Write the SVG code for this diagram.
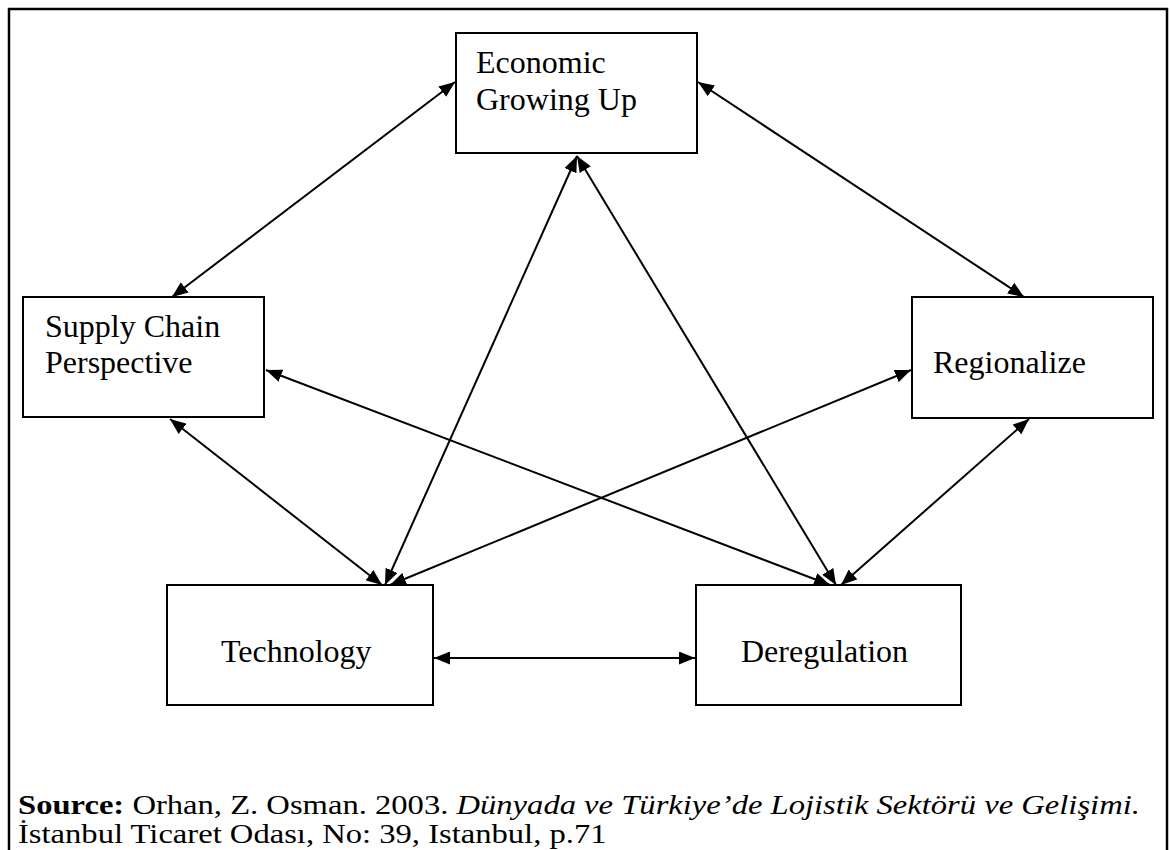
<svg xmlns="http://www.w3.org/2000/svg" width="1170" height="850" viewBox="0 0 1170 850">
  <style>
    .box { fill: #ffffff; stroke: #000000; stroke-width: 2; }
    .frame { fill: none; stroke: #000000; stroke-width: 2.5; }
    .lbl { font-family: "Liberation Serif", "Times New Roman", serif; font-size: 32px; fill: #000000; }
    .src { font-family: "Liberation Serif", "Times New Roman", serif; font-size: 28px; fill: #000000; }
    .link { fill: none; stroke: #000000; stroke-width: 2; marker-start: url(#head); marker-end: url(#head); }
  </style>
  <defs>
    <marker id="head" markerUnits="userSpaceOnUse" markerWidth="16" markerHeight="13" viewBox="0 0 16 13" refX="16" refY="6.5" orient="auto-start-reverse">
      <path d="M0,0 L16,6.5 L0,13 Z" fill="#000000"/>
    </marker>
  </defs>

  <rect class="frame" x="9" y="9" width="1158" height="860"/>

  <g id="connectors">
    <path class="link" d="M455,82 L172,297"/>
    <path class="link" d="M698,82 L1024,297"/>
    <path class="link" d="M577,156 L385,585"/>
    <path class="link" d="M577,156 L836,585"/>
    <path class="link" d="M266,370 L830,585"/>
    <path class="link" d="M170,419 L382,585"/>
    <path class="link" d="M911,370 L390,585"/>
    <path class="link" d="M1029,419 L841,585"/>
    <path class="link" d="M434,658 L695,658"/>
  </g>

  <g id="economic">
    <rect class="box" x="456" y="33" width="241" height="120"/>
    <text class="lbl" x="476" y="73">Economic</text>
    <text class="lbl" x="476" y="110">Growing Up</text>
  </g>

  <g id="supply-chain">
    <rect class="box" x="23" y="297" width="241" height="120"/>
    <text class="lbl" x="45" y="337">Supply Chain</text>
    <text class="lbl" x="45" y="373">Perspective</text>
  </g>

  <g id="regionalize">
    <rect class="box" x="912" y="297" width="241" height="121"/>
    <text class="lbl" x="933" y="373">Regionalize</text>
  </g>

  <g id="technology">
    <rect class="box" x="167" y="585" width="266" height="120"/>
    <text class="lbl" x="221" y="662">Technology</text>
  </g>

  <g id="deregulation">
    <rect class="box" x="696" y="585" width="265" height="120"/>
    <text class="lbl" x="741" y="662">Deregulation</text>
  </g>

  <!-- citation set in a widened serif -->
  <g id="source" transform="translate(18,0) scale(1.165,1)">
    <text class="src" x="0" y="814"><tspan font-weight="bold">Source:</tspan> Orhan, Z. Osman. 2003. <tspan font-style="italic">Dünyada ve Türkiye’de Lojistik Sektörü ve Gelişimi.</tspan></text>
    <text class="src" x="0" y="843">İstanbul Ticaret Odası, No: 39, Istanbul, p.71</text>
  </g>
</svg>
